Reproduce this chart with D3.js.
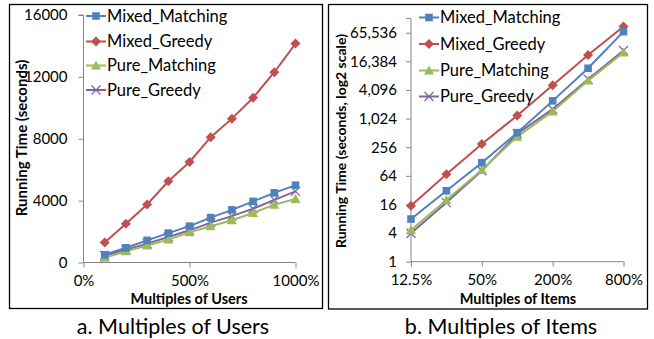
<!DOCTYPE html>
<html>
<head>
<meta charset="utf-8">
<script src="https://cdn.jsdelivr.net/npm/d3@7"></script>
<style>
  body { margin: 0; background: #fff; }
  text { font-family: Lato, "Open Sans", sans-serif; fill: #000; }
</style>
</head>
<body>
<svg id="chart" width="654" height="339"></svg>
<script>
// series names + colours (Excel 2007 palette)
const seriesNames = ['Mixed_Matching', 'Mixed_Greedy', 'Pure_Matching', 'Pure_Greedy'];
const seriesColors = ['#4F81BD', '#C0504D', '#9BBB59', '#8064A2'];
const seriesMarkers = ['square', 'diamond', 'triangle', 'cross'];

// panel a: multiples of users (%)
const userMultiples = [100, 200, 300, 400, 500, 600, 700, 800, 900, 1000];
const userMixedMatching = [500, 950, 1430, 1900, 2350, 2900, 3400, 3950, 4500, 5000];
const userMixedGreedy = [1300, 2500, 3750, 5250, 6500, 8100, 9300, 10650, 12300, 14150];
const userPureMatching = [300, 730, 1100, 1480, 1950, 2340, 2730, 3200, 3740, 4100];
const userPureGreedy = [450, 820, 1220, 1650, 2080, 2580, 3000, 3480, 4050, 4600];
const userXTicks = [0, 500, 1000];
const userYTicks = [0, 4000, 8000, 12000, 16000];

// panel b: multiples of items (%), log2 axes
const itemMultiples = [12.5, 25, 50, 100, 200, 400, 800];
const itemMixedMatching = [7.9, 31, 121, 518, 2414, 11700, 69000];
const itemMixedGreedy = [15.1, 69, 300, 1184, 5143, 22350, 88500];
const itemPureMatching = [4.65, 19.9, 85, 427, 1444, 6444, 25200];
const itemPureGreedy = [3.96, 17.5, 82, 490, 1615, 6910, 27800];
const itemXTicks = [12.5, 50, 200, 800];
const itemYTicks = [1, 4, 16, 64, 256, 1024, 4096, 16384, 65536];

const svg = d3.select('#chart');
const axisColor = '#868686';

function drawMarker(g, type, color) {
    if (type === 'square') {
        g.append('rect').attr('x', -3.8).attr('y', -3.8).attr('width', 7.6).attr('height', 7.6)
            .attr('fill', color);
    } else if (type === 'diamond') {
        g.append('path').attr('d', 'M0,-5L5,0L0,5L-5,0Z').attr('fill', color);
    } else if (type === 'triangle') {
        g.append('path').attr('d', 'M0,-5L5,4L-5,4Z').attr('fill', color);
    } else {
        g.append('path').attr('d', 'M-4.5,-4.5L4.5,4.5M-4.5,4.5L4.5,-4.5')
            .attr('stroke', color).attr('stroke-width', 1.3).attr('fill', 'none');
    }
}

function drawPanel(opts) {
    const { box, x, y, xVals, series, xTicks, yTicks, xFmt, yFmt, yTitle, yTitleX, xTitle, xTitleX, legend, caption, captionX } = opts;

    svg.append('rect')
        .attr('x', box[0]).attr('y', box[1]).attr('width', box[2]).attr('height', box[3])
        .attr('fill', 'none').attr('stroke', '#000').attr('stroke-width', 1.3);

    const y0 = y.range()[0];
    const x0 = x.range()[0];

    // y axis
    const yAxis = svg.append('g').attr('transform', `translate(${x0},0)`)
        .call(d3.axisLeft(y).tickValues(yTicks).tickFormat(yFmt).tickSize(5).tickPadding(opts.yPad));
    yAxis.select('.domain').attr('d', `M-5,${y.range()[1]}H0V${y0}`);

    // x axis
    const xAxis = svg.append('g').attr('transform', `translate(0,${y0})`)
        .call(d3.axisBottom(x).tickValues(xTicks).tickFormat(xFmt).tickSize(5).tickPadding(8));
    xAxis.select('.domain').attr('d', `M${x0},0H${x.range()[1]}`);

    [yAxis, xAxis].forEach(a => {
        a.selectAll('.domain, line').attr('stroke', axisColor);
        a.selectAll('text').style('font-size', '15px').attr('fill', '#000');
    });

    svg.append('text')
        .attr('transform', `translate(${yTitleX},${opts.yTitleY}) rotate(-90)`)
        .attr('text-anchor', 'middle').attr('dy', '0.35em')
        .style('font-size', opts.yTitleSize).style('font-weight', 'bold')
        .text(yTitle);

    svg.append('text')
        .attr('x', xTitleX).attr('y', 299).attr('dy', '0.35em')
        .attr('text-anchor', 'middle')
        .style('font-size', '14.5px').style('font-weight', 'bold')
        .text(xTitle);

    const line = d3.line().x(d => x(d[0])).y(d => y(d[1]));

    // draw in reverse so Mixed_Matching ends on top
    series.slice().reverse().forEach((vals, ri) => {
        const i = series.length - 1 - ri;
        const pts = xVals.map((v, j) => [v, vals[j]]);
        svg.append('path').datum(pts)
            .attr('d', line).attr('fill', 'none')
            .attr('stroke', seriesColors[i]).attr('stroke-width', 2);
        pts.forEach(p => {
            const g = svg.append('g').attr('transform', `translate(${x(p[0])},${y(p[1])})`);
            drawMarker(g, seriesMarkers[i], seriesColors[i]);
        });
    });

    // legend
    seriesNames.forEach((name, i) => {
        const ly = legend.y[i];
        svg.append('line')
            .attr('x1', legend.x1).attr('x2', legend.x2).attr('y1', ly).attr('y2', ly)
            .attr('stroke', seriesColors[i]).attr('stroke-width', 2);
        const g = svg.append('g').attr('transform', `translate(${(legend.x1 + legend.x2) / 2},${ly})`);
        drawMarker(g, seriesMarkers[i], seriesColors[i]);
        svg.append('text')
            .attr('x', legend.x2 + 1).attr('y', ly).attr('dy', '0.35em')
            .style('font-size', '16.5px')
            .text(name);
    });

    svg.append('text')
        .attr('x', captionX).attr('y', 334)
        .attr('text-anchor', 'middle')
        .style('font-size', '21.5px')
        .text(caption);
}

// panel a
drawPanel({
    box: [9.5, 4.5, 313, 304],
    x: d3.scaleLinear().domain([0, 1000]).range([83.5, 295.5]),
    y: d3.scaleLinear().domain([0, 16000]).range([262.5, 15]),
    xVals: userMultiples,
    series: [userMixedMatching, userMixedGreedy, userPureMatching, userPureGreedy],
    xTicks: userXTicks,
    yTicks: userYTicks,
    xFmt: d => d + '%',
    yFmt: d => d,
    yPad: 11,
    yTitle: 'Running Time (seconds)', yTitleSize: '15px',
    yTitleX: 22, yTitleY: 138,
    xTitle: 'Multiples of Users', xTitleX: 189,
    legend: { x1: 86, x2: 106, y: [16, 41.5, 65.5, 90] },
    caption: 'a. Multiples of Users', captionX: 173
});

// panel b
drawPanel({
    box: [328.5, 4.5, 319, 304.5],
    x: d3.scaleLog().base(2).domain([12.5, 800]).range([411, 623.5]),
    y: d3.scaleLog().base(2).domain([1, 131072]).range([261.7, 18.4]),
    xVals: itemMultiples,
    series: [itemMixedMatching, itemMixedGreedy, itemPureMatching, itemPureGreedy],
    xTicks: itemXTicks,
    yTicks: itemYTicks,
    xFmt: d => d + '%',
    yFmt: d3.format(','),
    yPad: 9,
    yTitle: 'Running Time (seconds, log2 scale)', yTitleSize: '14px',
    yTitleX: 341, yTitleY: 141,
    xTitle: 'Multiples of Items', xTitleX: 518,
    legend: { x1: 419, x2: 439, y: [17.5, 44, 70.5, 96.5] },
    caption: 'b. Multiples of Items', captionX: 501
});
</script>
</body>
</html>
